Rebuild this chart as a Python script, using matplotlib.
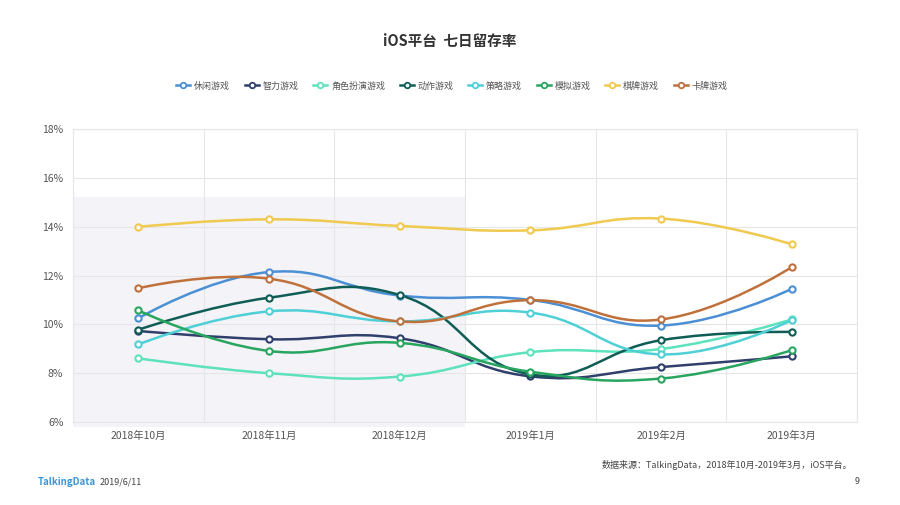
import numpy as np
import matplotlib
matplotlib.use('Agg')
from matplotlib import pyplot as plt
from matplotlib.path import Path
from matplotlib.patches import PathPatch, Rectangle
from matplotlib.lines import Line2D

plt.rcParams['font.family'] = ['Noto Sans CJK SC', 'DejaVu Sans']

# %% data
months = ['2018年10月', '2018年11月', '2018年12月', '2019年1月', '2019年2月', '2019年3月']
names = ['休闲游戏', '智力游戏', '角色扮演游戏', '动作游戏', '策略游戏', '模拟游戏', '棋牌游戏', '卡牌游戏']
xiuxian = [10.25, 12.14, 11.18, 11.0, 9.95, 11.45]
zhili = [9.73, 9.39, 9.43, 7.87, 8.25, 8.69]
juese = [8.61, 8.0, 7.86, 8.86, 8.99, 10.2]
dongzuo = [9.78, 11.09, 11.2, 7.95, 9.35, 9.69]
celue = [9.18, 10.53, 10.12, 10.48, 8.77, 10.17]
moni = [10.57, 8.91, 9.24, 8.06, 7.78, 8.94]
qipai = [13.99, 14.30, 14.03, 13.85, 14.33, 13.28]
kapai = [11.48, 11.87, 10.12, 10.99, 10.2, 12.34]
series = [xiuxian, zhili, juese, dongzuo, celue, moni, qipai, kapai]
colors = ['#4b8fd5', '#303f6c', '#5de2bd', '#0f5d56', '#4fcfd6', '#28a55f', '#f0c94f', '#c0713b']


def smooth_path(x, y, k, smooth=0.45):
    # bezier smoothing like the web chart, distances measured with y scaled by k
    pts = np.column_stack([x, y]).astype(float)
    n = len(pts)
    cps = []
    for i in range(n):
        if i == 0 or i == n - 1:
            cps.append((pts[i], pts[i]))
            continue
        v = pts[i + 1] - pts[i - 1]
        d0 = np.hypot(pts[i, 0] - pts[i - 1, 0], k * (pts[i, 1] - pts[i - 1, 1]))
        d1 = np.hypot(pts[i + 1, 0] - pts[i, 0], k * (pts[i + 1, 1] - pts[i, 1]))
        s = d0 + d1
        cps.append((pts[i] - v * smooth * d0 / s, pts[i] + v * smooth * d1 / s))
    verts = [pts[0]]
    codes = [Path.MOVETO]
    for i in range(n - 1):
        verts += [cps[i][1], cps[i + 1][0], pts[i + 1]]
        codes += [Path.CURVE4] * 3
    return Path(verts, codes)


fig = plt.figure(figsize=(9, 5.05), dpi=100)
ax = fig.add_axes([73 / 900, 1 - 422 / 505, 784 / 900, 293 / 505])
ax.set_xlim(-0.5, 5.5)
ax.set_ylim(6, 18)

ax.add_patch(Rectangle((-0.5, 5.8), 3, 15.2 - 5.8, facecolor='#f4f3f7',
                       edgecolor='none', zorder=0, clip_on=False))

ax.set_yticks(np.arange(6, 19, 2))
ax.set_yticklabels(['%d%%' % v for v in range(6, 19, 2)])
ax.set_xticks(range(len(months)))
ax.set_xticklabels(months)
ax.set_xticks(np.arange(-0.5, 6, 1), minor=True)
ax.grid(axis='y', color='#e6e6e6', lw=0.8, zorder=1)
ax.grid(axis='x', which='minor', color='#e6e6e6', lw=0.8, zorder=1)
ax.tick_params(which='both', length=0, labelsize=7.5, colors='#555555')
ax.tick_params(axis='x', pad=6)
ax.tick_params(axis='y', pad=7)
for sp in ax.spines.values():
    sp.set_color('#e6e6e6')
    sp.set_linewidth(0.8)
ax.set_facecolor('none')

k = (293 / 12) / (784 / 6)
x = np.arange(len(months))
for name, vals, c in zip(names, series, colors):
    ax.add_patch(PathPatch(smooth_path(x, vals, k), facecolor='none',
                           edgecolor=c, lw=1.8, zorder=3))
    ax.plot(x, vals, ls='none', marker='o', ms=4.5, mfc='white', mec=c,
            mew=1.5, zorder=4)

handles = [Line2D([], [], color=c, lw=1.8, marker='o', ms=4, mfc='white',
                  mec=c, mew=1.3) for c in colors]
fig.legend(handles, names, loc='center', bbox_to_anchor=(0.502, 1 - 86 / 505),
           ncol=8, frameon=False, fontsize=6.5, handlelength=1.6,
           handletextpad=0.4, columnspacing=1.6, labelcolor='#555555')

fig.text(0.5, 1 - 41 / 505, 'iOS平台  七日留存率', ha='center', va='center',
         fontsize=10.5, fontweight='bold', color='#333333')
fig.text(852 / 900, 1 - 465 / 505,
         '数据来源：TalkingData，2018年10月-2019年3月，iOS平台。',
         ha='right', va='center', fontsize=6.5, style='italic', color='#444444')
fig.text(38 / 900, 1 - 482 / 505, 'TalkingData', ha='left', va='center',
         fontsize=7, fontweight='bold', color='#3b97d6')
fig.text(100 / 900, 1 - 482 / 505, '2019/6/11', ha='left', va='center',
         fontsize=6.5, color='#444444')
fig.text(860 / 900, 1 - 482 / 505, '9', ha='right', va='center',
         fontsize=6.5, color='#444444')

fig.savefig('out.png', dpi=100)
